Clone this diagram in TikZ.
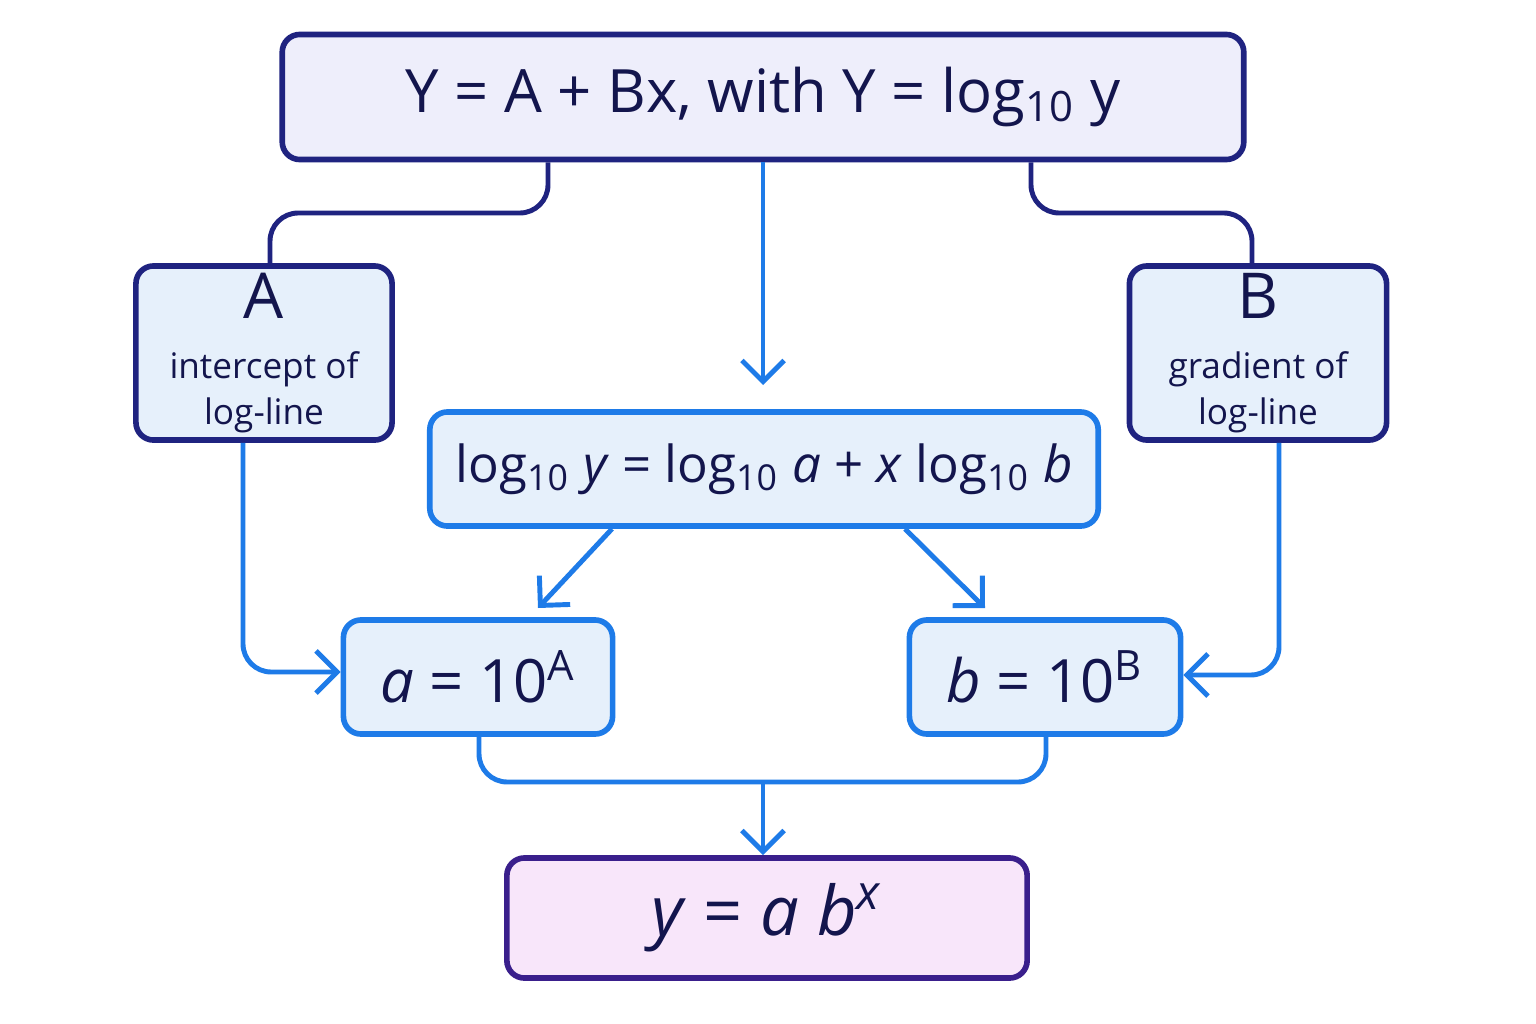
\documentclass[tikz,border=0pt]{standalone}
\usepackage{fontspec}
\setmainfont{Open Sans}
\usetikzlibrary{arrows.meta,positioning}
\definecolor{navy}{HTML}{1F2380}
\definecolor{azure}{HTML}{1E7BE8}
\definecolor{lav}{HTML}{EEEEFB}
\definecolor{pale}{HTML}{E6F0FB}
\definecolor{pink}{HTML}{F8E6FA}
\definecolor{plum}{HTML}{3A1F8C}
\tikzset{box/.style={draw=navy, line width=1.6pt, rounded corners=5pt, fill=pale, align=center, text=navy!60!black, inner sep=2pt},
         bluebox/.style={box, draw=azure, fill=pale},
         link/.style={navy, line width=1.4pt, rounded corners=8pt},
         flow/.style={azure, line width=1.4pt, rounded corners=8pt, -{Straight Barb[length=6pt,width=12pt]}}}
\begin{document}
\begin{tikzpicture}[x=0.01cm,y=-0.01cm]
\useasboundingbox[fill=white] (0,0) rectangle (1536,1024);

\node[box, fill=lav, minimum width=9.61cm, minimum height=1.25cm, font=\fontsize{17}{20}\selectfont] (top) at (763,97) {Y = A + Bx, with Y = log\textsubscript{10} y};
\node[box, minimum width=2.56cm, minimum height=1.74cm, font=\fontsize{10}{13}\selectfont] (A) at (264,353) {{\fontsize{18}{21}\selectfont A}\\[4pt]intercept of\\log-line};
\node[box, minimum width=2.57cm, minimum height=1.74cm, font=\fontsize{10}{13}\selectfont] (B) at (1258,353) {{\fontsize{18}{21}\selectfont B}\\[4pt]gradient of\\log-line};
\node[bluebox, minimum width=6.68cm, minimum height=1.14cm, font=\fontsize{14.5}{18}\selectfont] (mid) at (764,469) {log\textsubscript{10} \textit{y} = log\textsubscript{10} \textit{a} + \textit{x} log\textsubscript{10} \textit{b}};
\node[bluebox, minimum width=2.69cm, minimum height=1.14cm, font=\fontsize{17}{20}\selectfont] (a) at (478,677) {\textit{a} = 10\textsuperscript{A}};
\node[bluebox, minimum width=2.71cm, minimum height=1.14cm, font=\fontsize{17}{20}\selectfont] (b) at (1045,677) {\textit{b} = 10\textsuperscript{B}};
\node[box, draw=plum, fill=pink, minimum width=5.2cm, minimum height=1.2cm, font=\fontsize{19.5}{23}\selectfont] (res) at (767,918) {\textit{y} = \textit{a b}\textsuperscript{\textit{x}}};

% top equation to its two parts
\draw[link] (top.south -| 548,0) -- (548,213) -- (270,213) -- (A.north -| 270,0);
\draw[link] (top.south -| 1031,0) -- (1031,213) -- (1252,213) -- (B.north -| 1252,0);
\coordinate (gap) at (763,385);
\draw[flow] (top.south -| gap) -- (gap);

% back-substitution
\draw[flow] (A.south -| 243,0) -- (243,672) -- (a.west |- 0,672);
\draw[flow] (B.south -| 1279,0) -- (1279,675) -- (b.east |- 0,675);
\coordinate (ain) at (538,608);
\coordinate (bin) at (985,608);
\draw[flow] (mid.south -| 612,0) -- (ain);
\draw[flow] (mid.south -| 905,0) -- (bin);

% combine
\coordinate (join) at (763,782);
\draw[azure, line width=1.4pt, rounded corners=8pt] (a.south -| 479,0) -- (479,782) -- (1046,782) -- (b.south -| 1046,0);
\draw[flow] (join) -- (res.north -| join);
\end{tikzpicture}
\end{document}
